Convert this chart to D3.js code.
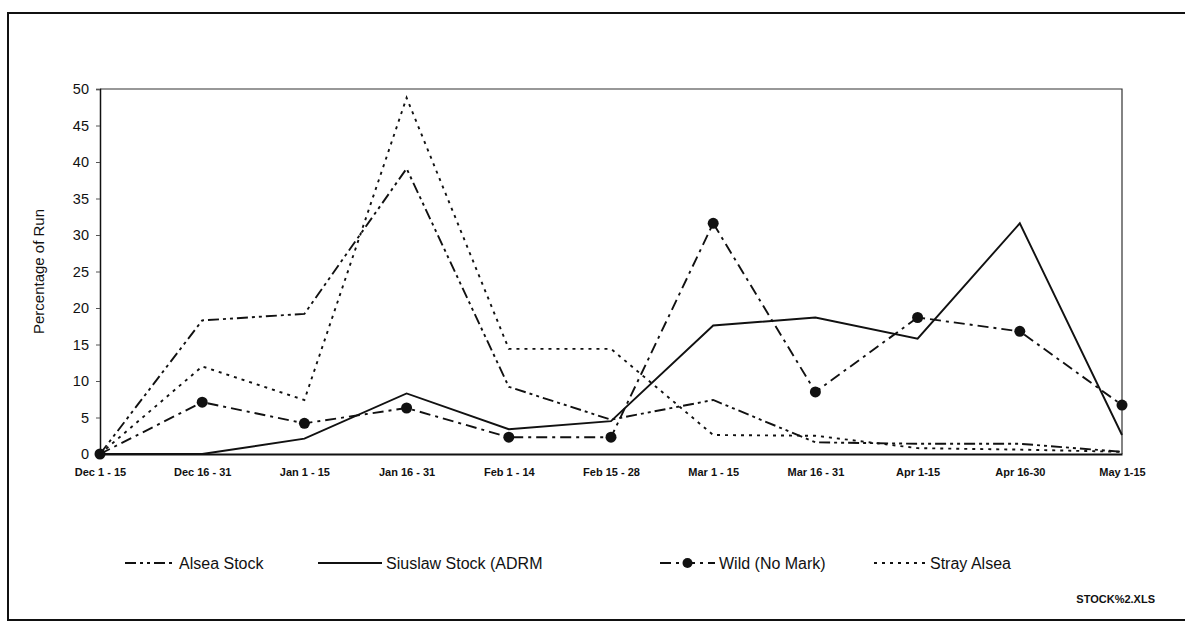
<!DOCTYPE html>
<html>
<head>
<meta charset="utf-8">
<script src="https://cdn.jsdelivr.net/npm/d3@7"></script>
<style>
  body { margin: 0; background: #fff; }
  text { font-family: "Liberation Sans", Arial, sans-serif; fill: #111; }
</style>
</head>
<body>
<svg id="chart" width="1185" height="623"></svg>
<script>
// categories (half-month periods) and % of run per group
const periods = ['Dec 1 - 15', 'Dec 16 - 31', 'Jan 1 - 15', 'Jan 16 - 31', 'Feb 1 - 14', 'Feb 15 - 28',
                 'Mar 1 - 15', 'Mar 16 - 31', 'Apr 1-15', 'Apr 16-30', 'May 1-15']
const alsea   = [0, 18.3, 19.2, 39.1, 9.2, 4.7, 7.4, 1.6, 1.4, 1.4, 0.3]
const siuslaw = [0, 0, 2.1, 8.3, 3.4, 4.5, 17.6, 18.7, 15.8, 31.6, 2.6]
const wild    = [0, 7.1, 4.2, 6.3, 2.3, 2.3, 31.6, 8.5, 18.7, 16.8, 6.7]
const stray   = [0, 12.0, 7.4, 48.8, 14.4, 14.4, 2.6, 2.5, 0.8, 0.6, 0.3]
const yTicks  = [0, 5, 10, 15, 20, 25, 30, 35, 40, 45, 50]

const series = [
  {name: 'Alsea Stock', values: alsea, dash: '11,4,3,4,3,4', dot: false},
  {name: 'Siuslaw Stock (ADRM', values: siuslaw, dash: null, dot: false},
  {name: 'Wild (No Mark)', values: wild, dash: '11,5,3,5', dot: true},
  {name: 'Stray Alsea', values: stray, dash: '3,5', dot: false}
]

const svg = d3.select('#chart')
const plotL = 100, plotR = 1122, plotT = 89, plotB = 454

// outer frame of the sheet
svg.append('rect')
  .attr('x', 8).attr('y', 13).attr('width', 1200).attr('height', 607)
  .attr('fill', 'none').attr('stroke', '#111').attr('stroke-width', 2)

const x = d3.scalePoint().domain(periods).range([plotL, plotR])
const y = d3.scaleLinear().domain([0, 50]).range([plotB, plotT])

// plot area border (top and right)
svg.append('path')
  .attr('d', `M${plotL},${plotT}H${plotR}V${plotB}`)
  .attr('fill', 'none').attr('stroke', '#333').attr('stroke-width', 1.2)

// y axis
const yAxis = svg.append('g')
  .attr('transform', `translate(${plotL},0)`)
  .call(d3.axisLeft(y).tickValues(yTicks).tickSize(4).tickPadding(7))
yAxis.select('.domain').attr('stroke', '#111').attr('stroke-width', 1.5)
yAxis.selectAll('.tick line').attr('stroke', '#555')
yAxis.selectAll('.tick text')
  .style('font-size', '14.5px').style('font-family', '"Liberation Sans", Arial, sans-serif').attr('fill', '#111')

// x axis
const xAxis = svg.append('g')
  .attr('transform', `translate(0,${plotB})`)
  .call(d3.axisBottom(x).tickSize(0).tickPadding(14))
xAxis.select('.domain').attr('stroke', '#111').attr('stroke-width', 1.8)
xAxis.selectAll('.tick text')
  .style('font-size', '11px').style('font-weight', 'bold')
  .style('font-family', '"Liberation Sans", Arial, sans-serif').attr('fill', '#111')

// y title
svg.append('text')
  .attr('transform', `translate(44,${(plotT + plotB) / 2}) rotate(-90)`)
  .attr('text-anchor', 'middle')
  .style('font-size', '15px')
  .text('Percentage of Run')

// lines
const line = d3.line().x((d, i) => x(periods[i])).y(d => y(d))

series.forEach(s => {
  svg.append('path')
    .datum(s.values)
    .attr('d', line)
    .attr('fill', 'none')
    .attr('stroke', '#111')
    .attr('stroke-width', 1.9)
    .attr('stroke-dasharray', s.dash)
  if (s.dot) {
    svg.selectAll(null)
      .data(s.values)
      .enter()
      .append('circle')
      .attr('cx', (d, i) => x(periods[i]))
      .attr('cy', d => y(d))
      .attr('r', 5.5)
      .attr('fill', '#111')
  }
})

// legend
const legendX = [125, 318, 660, 874]
const legendW = [50, 64, 55, 52]
const ly = 563
series.forEach((s, i) => {
  const g = svg.append('g')
  g.append('line')
    .attr('x1', legendX[i]).attr('x2', legendX[i] + legendW[i])
    .attr('y1', ly).attr('y2', ly)
    .attr('stroke', '#111').attr('stroke-width', 1.9)
    .attr('stroke-dasharray', s.dash)
  if (s.dot) {
    g.append('circle')
      .attr('cx', legendX[i] + legendW[i] / 2).attr('cy', ly).attr('r', 5).attr('fill', '#111')
  }
  g.append('text')
    .attr('x', legendX[i] + legendW[i] + 4).attr('y', ly + 6)
    .style('font-size', '16px')
    .text(s.name)
})

svg.append('text')
  .attr('x', 1155).attr('y', 603)
  .attr('text-anchor', 'end')
  .style('font-size', '11px').style('font-weight', 'bold')
  .text('STOCK%2.XLS')
</script>
</body>
</html>
